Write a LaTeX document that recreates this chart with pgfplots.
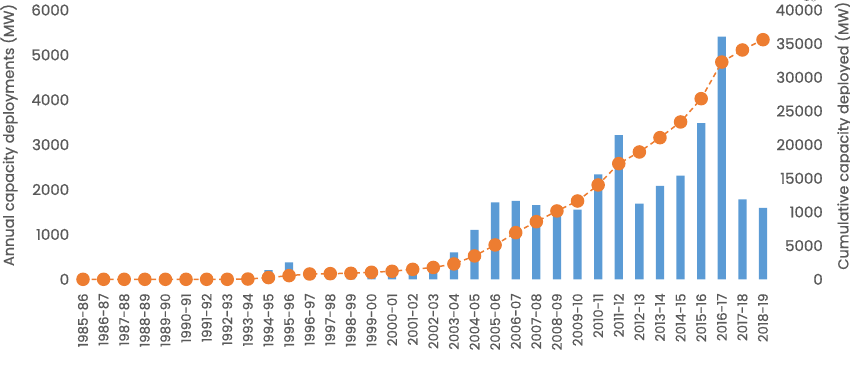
\documentclass[border=0pt]{standalone}
\usepackage{pgfplots}
\pgfplotsset{compat=1.18}
\usepackage{pgfplotstable}
\usepackage{fontspec}
\setmainfont{Poppins}[FakeBold=0.8]
\definecolor{barblue}{HTML}{5B9BD5}
\definecolor{lineorange}{HTML}{ED7D31}
\definecolor{txtgrey}{HTML}{595959}
\pgfplotstableread{
x bar cum
0 0 0
1 0 0
2 0 0
3 0 0
4 0 0
5 0 0
6 0 0
7 0 0
8 30 40
9 207 250
10 375 545
11 220 790
12 60 840
13 50 890
14 150 1040
15 160 1190
16 260 1480
17 290 1760
18 600 2280
19 1100 3470
20 1715 5100
21 1745 6930
22 1650 8560
23 1500 10150
24 1552 11630
25 2340 14010
26 3215 17180
27 1685 18910
28 2080 21040
29 2310 23370
30 3480 26830
31 5405 32270
32 1780 34060
33 1590 35590
}\data
\begin{document}
\begin{tikzpicture}[font=\fontsize{15}{17}\selectfont, text=txtgrey]
\pgfplotsset{
  common/.style={
    scale only axis, width=700.6pt, height=269.3pt,
    at={(72.7pt,84.7pt)}, anchor=south west,
    xmin=-0.5, xmax=33.5,
    ymin=0,
    clip=false,
    /pgf/number format/assume math mode=true,
    /pgf/number format/1000 sep={},
    tick style={draw=none},
    axis line style={draw=none},
    ticklabel style={text=txtgrey, font=\fontsize{15}{17}\selectfont},
    label style={text=txtgrey, font=\fontsize{14.5}{17}\selectfont},
  }
}
\begin{axis}[common,
  ymax=6000, ytick={0,1000,...,6000},
  xtick={0,...,33},
  xticklabels={1985-86,1986-87,1987-88,1988-89,1989-90,1990-91,1991-92,1992-93,1993-94,1994-95,1995-96,1996-97,1997-98,1998-99,1999-00,2000-01,2001-02,2002-03,2003-04,2004-05,2005-06,2006-07,2007-08,2008-09,2009-10,2010-11,2011-12,2012-13,2013-14,2014-15,2015-16,2016-17,2017-18,2018-19},
  xticklabel style={rotate=90, anchor=east, font=\fontsize{13.3}{15}\selectfont, inner sep=0pt, xshift=-14pt},
  ylabel={Annual capacity deployments (MW)},
  ylabel style={at={(axis description cs:-0.0909,0.536)}, anchor=center},
]
\addplot[ybar, bar width=8.3pt, fill=barblue, draw=none] table[x=x, y=bar] {\data};
\end{axis}
\begin{axis}[common,
  ymax=40000, ytick={0,5000,...,40000},
  yticklabels={0,5000,1000,15000,20000,25000,30000,35000,40000},
  axis y line*=right, axis x line=none,
  xtick=\empty,
  yticklabel style={anchor=east, xshift=53pt},
  ylabel={Cumulative capacity deployed (MW)},
  ylabel style={at={(axis description cs:1.1002,0.533)}, anchor=center, rotate=0},
]
\addplot[lineorange, line width=1.5pt, dash pattern=on 5pt off 3.5pt, mark=*, mark size=6pt, mark options={solid, fill=lineorange, draw=none}] table[x=x, y=cum] {\data};
\end{axis}
\pgfresetboundingbox
\path (0,0) rectangle (850pt,364pt);
\end{tikzpicture}
\end{document}
